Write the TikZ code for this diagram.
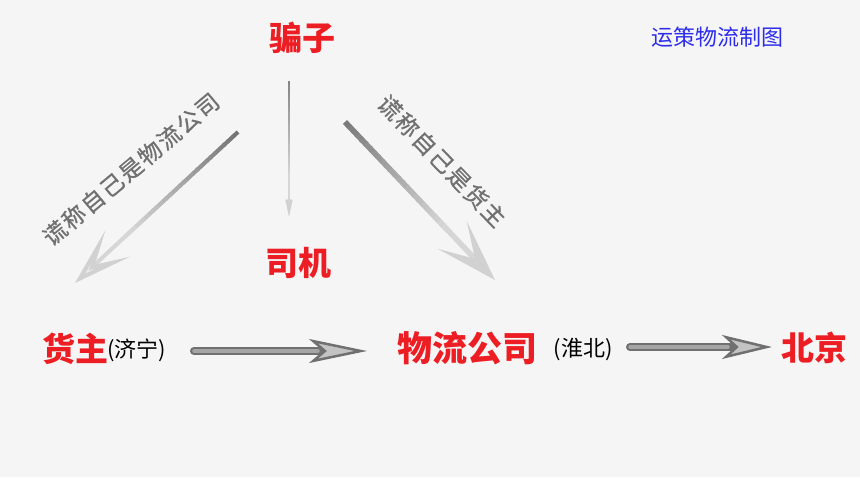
\documentclass[tikz,border=0pt]{standalone}
\usepackage{fontspec}
\newfontfamily\cjk{Noto Sans CJK SC}
\newfontfamily\cjkmed{Noto Sans CJK SC}[FakeBold=0.7,LetterSpace=8]
\usetikzlibrary{arrows.meta,calc}
\definecolor{redtxt}{RGB}{236,30,36}
\definecolor{bluetxt}{RGB}{45,45,235}
\definecolor{graytxt}{RGB}{112,112,112}
\definecolor{bgc}{RGB}{245,245,245}
\definecolor{hdark}{RGB}{112,112,112}
\definecolor{hmid}{RGB}{165,165,165}
\definecolor{hlight}{RGB}{195,195,195}
\newcommand\gradshaft[6]{%
  \foreach \i in {0,...,24}{%
    \pgfmathsetmacro\ta{#3*\i/25}%
    \pgfmathsetmacro\tb{#3*(\i+1.3)/25}%
    \pgfmathtruncatemacro\cc{#5+(#6-#5)*\i/24}%
    \draw[line width=#4, color=black!\cc] ($(#1)!\ta!(#2)$) -- ($(#1)!\tb!(#2)$);
  }}
\begin{document}
\begin{tikzpicture}[x=1pt,y=-1pt,
  redlab/.style={font=\cjk\bfseries\fontsize{33}{33}\selectfont, text=redtxt, inner sep=0pt},
  blacklab/.style={font=\cjk\fontsize{22}{22}\selectfont, text=black, inner sep=0pt},
  graylab/.style={font=\cjkmed\fontsize{23}{23}\selectfont, text=graytxt, inner sep=0pt},
  titlelab/.style={font=\cjk\fontsize{22}{22}\selectfont, text=bluetxt, inner sep=0pt},
  hshaft/.style={line width=8pt, line cap=round, color=hdark},
  hinner/.style={line width=3.5pt, line cap=round, color=hmid}
]
\fill[bgc] (0,0) rectangle (860,477);
\useasboundingbox (0,0) rectangle (860,477);

% texts
\node[redlab] (pz) at (302,38) {骗子};
\node[redlab] (sj) at (298,263) {司机};
\node[redlab] (hz) at (75,349) {货主};
\node[blacklab, anchor=west] (jn) at (107,350) {(济宁)};
\node[redlab, font=\cjk\bfseries\fontsize{35}{35}\selectfont] (wl) at (467,348) {物流公司};
\node[blacklab] (hb) at (583,349) {(淮北)};
\node[redlab] (bj) at (814,348) {北京};
\node[titlelab] (tt) at (717,37) {运策物流制图};
\node[graylab, rotate=40] (l1) at (131,169) {谎称自己是物流公司};
\node[graylab, rotate=-46] (l2) at (442,161) {谎称自己是货主};

% coordinates
\coordinate (v1) at (289,81);
\coordinate (v2) at (289,217);
\coordinate (d1a) at (238,132);
\coordinate (d1b) at (75,283);
\coordinate (d2a) at (345,122);
\coordinate (d2b) at (495,280);
\coordinate (h1a) at (194,351);
\coordinate (h1b) at (367,351);
\coordinate (h1c) at (318,351);
\coordinate (h2a) at (630,347);
\coordinate (h2b) at (772,347);
\coordinate (h2c) at (728,347);

% vertical arrow
\draw[line width=2.5pt, color=black!16,
  -{Stealth[length=40pt,width=17pt,inset=26pt,fill=black!9,color=black!18]}] (v1) -- (v2);
\gradshaft{v1}{v2}{0.72}{2.5pt}{48}{16}

% left diagonal arrow
\draw[line width=4pt, color=black!16,
  -{Stealth[length=58pt,width=36pt,inset=31pt,fill=black!9,color=black!18]}] (d1a) -- (d1b);
\gradshaft{d1a}{d1b}{0.68}{4pt}{55}{16}

% right diagonal arrow
\draw[line width=5.5pt, color=black!16,
  -{Stealth[length=62pt,width=40pt,inset=33pt,fill=black!9,color=black!18]}] (d2a) -- (d2b);
\gradshaft{d2a}{d2b}{0.68}{5.5pt}{52}{16}

% horizontal arrows
\draw[hshaft, -{Stealth[length=58pt,width=24pt,inset=14pt,fill=hlight,color=hdark,line width=2.5pt]}] (h1a) -- (h1b);
\draw[hinner] (h1a) -- (h1c);
\draw[hshaft, -{Stealth[length=50pt,width=24pt,inset=13pt,fill=hlight,color=hdark,line width=2.5pt]}] (h2a) -- (h2b);
\draw[hinner] (h2a) -- (h2c);
\end{tikzpicture}
\end{document}
